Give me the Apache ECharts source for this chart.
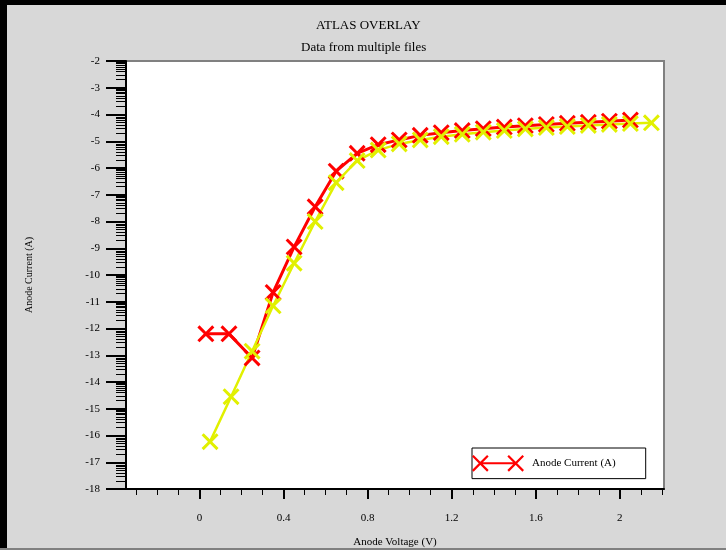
<!DOCTYPE html>
<html>
<head>
<meta charset="utf-8">
<script src="https://cdn.jsdelivr.net/npm/echarts@6/dist/echarts.min.js"></script>
<style>
html,body{margin:0;padding:0;background:#d8d8d8;}
#main{width:726px;height:550px;}
</style>
</head>
<body>
<div id="main"></div>
<script>
// ---- data ----
const redX = [0.03,0.14,0.25,0.35,0.45,0.55,0.65,0.75,0.85,0.95,1.05,1.15,1.25,1.35,1.45,1.55,1.65,1.75,1.85,1.95,2.05];
const redY = [-12.2,-12.2,-13.1,-10.65,-8.95,-7.45,-6.12,-5.45,-5.13,-4.95,-4.78,-4.68,-4.6,-4.53,-4.47,-4.42,-4.37,-4.33,-4.29,-4.25,-4.21];
const yellowX = [0.05,0.15,0.25,0.35,0.45,0.55,0.65,0.75,0.85,0.95,1.05,1.15,1.25,1.35,1.45,1.55,1.65,1.75,1.85,1.95,2.05,2.15];
const yellowY = [-16.23,-14.55,-12.85,-11.15,-9.56,-8.0,-6.55,-5.72,-5.33,-5.1,-4.95,-4.83,-4.74,-4.66,-4.6,-4.54,-4.49,-4.45,-4.41,-4.37,-4.34,-4.31];
const xMajorTicks = [0,0.4,0.8,1.2,1.6,2];
const xTickLabels = ['0','0.4','0.8','1.2','1.6','2'];
const xMinorTicks = [-0.3,-0.2,-0.1,0.1,0.2,0.3,0.5,0.6,0.7,0.9,1.0,1.1,1.3,1.4,1.5,1.7,1.8,1.9,2.1,2.2];
const yDecades = [-18,-17,-16,-15,-14,-13,-12,-11,-10,-9,-8,-7,-6,-5,-4,-3];
const yMinorFactors = [2,3,4,5,6,7,8,9];
const seriesNames = ['Anode Current (A)', 'Anode Current (A) 2'];
const titleText = 'ATLAS OVERLAY';
const subText = 'Data from multiple files';
const xName = 'Anode Voltage (V)';
const yName = 'Anode Current (A)';

// ---- build ----
const yMinorTicks = [];
yDecades.forEach(d => yMinorFactors.forEach(k => yMinorTicks.push(d + Math.log10(k))));
const redData = redX.map((x, i) => [x, redY[i]]);
const yellowData = yellowX.map((x, i) => [x, yellowY[i]]);

const FONT = '"Liberation Serif", "Times New Roman", serif';
const XPATH = 'path://M0 2L2 0L8 6L14 0L16 2L10 8L16 14L14 16L8 10L2 16L0 14L6 8Z';
const LEGEND_ICON = 'path://M0 3.5L1.5 2L16 16.5L14.5 18ZM14.5 2L16 3.5L1.5 18L0 16.5ZM8 9L42 9L42 11L8 11ZM34 3.5L35.5 2L50 16.5L48.5 18ZM48.5 2L50 3.5L35.5 18L34 16.5Z';

const chart = echarts.init(document.getElementById('main'), null, {renderer: 'canvas'});
chart.setOption({
  animation: false,
  backgroundColor: '#d8d8d8',
  title: [
    {text: titleText, left: 316, top: 19, padding: 0,
     textStyle: {fontFamily: FONT, fontSize: 13, fontWeight: 'normal', color: '#000'}},
    {text: subText, left: 301, top: 41, padding: 0,
     textStyle: {fontFamily: FONT, fontSize: 13, fontWeight: 'normal', color: '#000'}}
  ],
  graphic: [
    {type: 'rect', left: 0, top: 0, shape: {width: 726, height: 5}, style: {fill: '#000'}, z: 100},
    {type: 'rect', left: 0, top: 0, shape: {width: 7, height: 550}, style: {fill: '#000'}, z: 100},
    {type: 'rect', left: 0, top: 548, shape: {width: 726, height: 2}, style: {fill: '#808080'}, z: 100}
  ],
  grid: {left: 126, right: 62, top: 61, bottom: 61, show: true, backgroundColor: '#fff',
         borderColor: '#808080', borderWidth: 2, containLabel: false, outerBoundsMode: 'none'},
  legend: {
    data: [seriesNames[0]],
    left: 472, top: 448, orient: 'horizontal',
    padding: [7, 30, 7, 0],
    backgroundColor: '#fff', borderColor: '#000', borderWidth: 1,
    itemWidth: 52, itemHeight: 17,
    icon: LEGEND_ICON,
    itemStyle: {color: '#ff0000', borderWidth: 0},
    textStyle: {fontFamily: FONT, fontSize: 11, color: '#000', padding: [0, 0, 0, 3]}
  },
  xAxis: [
    {type: 'value', min: -0.35, max: 2.21, position: 'bottom',
     name: xName, nameLocation: 'middle', nameGap: 48,
     nameTextStyle: {fontFamily: FONT, fontSize: 11, color: '#000'},
     axisLine: {show: true, onZero: false, lineStyle: {color: '#000', width: 2}},
     axisTick: {show: true, customValues: xMajorTicks, length: 10, lineStyle: {color: '#000', width: 2}},
     axisLabel: {customValues: xMajorTicks, margin: 24, fontFamily: FONT, fontSize: 11, color: '#000',
                 formatter: v => xTickLabels[xMajorTicks.findIndex(t => Math.abs(t - v) < 1e-9)]},
     splitLine: {show: false}},
    {type: 'value', min: -0.35, max: 2.21, position: 'bottom',
     axisLine: {show: false, onZero: false},
     axisTick: {show: true, customValues: xMinorTicks, length: 6, lineStyle: {color: '#000', width: 1}},
     axisLabel: {show: false}, splitLine: {show: false}}
  ],
  yAxis: [
    {type: 'value', min: -18, max: -2, interval: 1, position: 'left',
     name: yName, nameLocation: 'middle', nameGap: 92, nameRotate: 90,
     nameTextStyle: {fontFamily: FONT, fontSize: 10, color: '#000'},
     axisLine: {show: true, onZero: false, lineStyle: {color: '#000', width: 2}},
     axisTick: {show: true, length: 20, lineStyle: {color: '#000', width: 2}},
     axisLabel: {margin: 26, fontFamily: FONT, fontSize: 11, color: '#000'},
     splitLine: {show: false}},
    {type: 'value', min: -18, max: -2, position: 'left',
     axisLine: {show: false, onZero: false},
     axisTick: {show: true, customValues: yMinorTicks, length: 10, lineStyle: {color: '#000', width: 1}},
     axisLabel: {show: false}, splitLine: {show: false}}
  ],
  series: [
    {name: seriesNames[0], type: 'line', xAxisIndex: 0, yAxisIndex: 0, data: redData,
     symbol: XPATH, symbolSize: 17, showAllSymbol: true,
     lineStyle: {color: '#ff0000', width: 3}, itemStyle: {color: '#ff0000'}},
    {name: seriesNames[1], type: 'line', xAxisIndex: 0, yAxisIndex: 0, data: yellowData,
     symbol: XPATH, symbolSize: 17, showAllSymbol: true,
     lineStyle: {color: '#e1f000', width: 2.5}, itemStyle: {color: '#e1f000'}}
  ]
});
</script>
</body>
</html>
